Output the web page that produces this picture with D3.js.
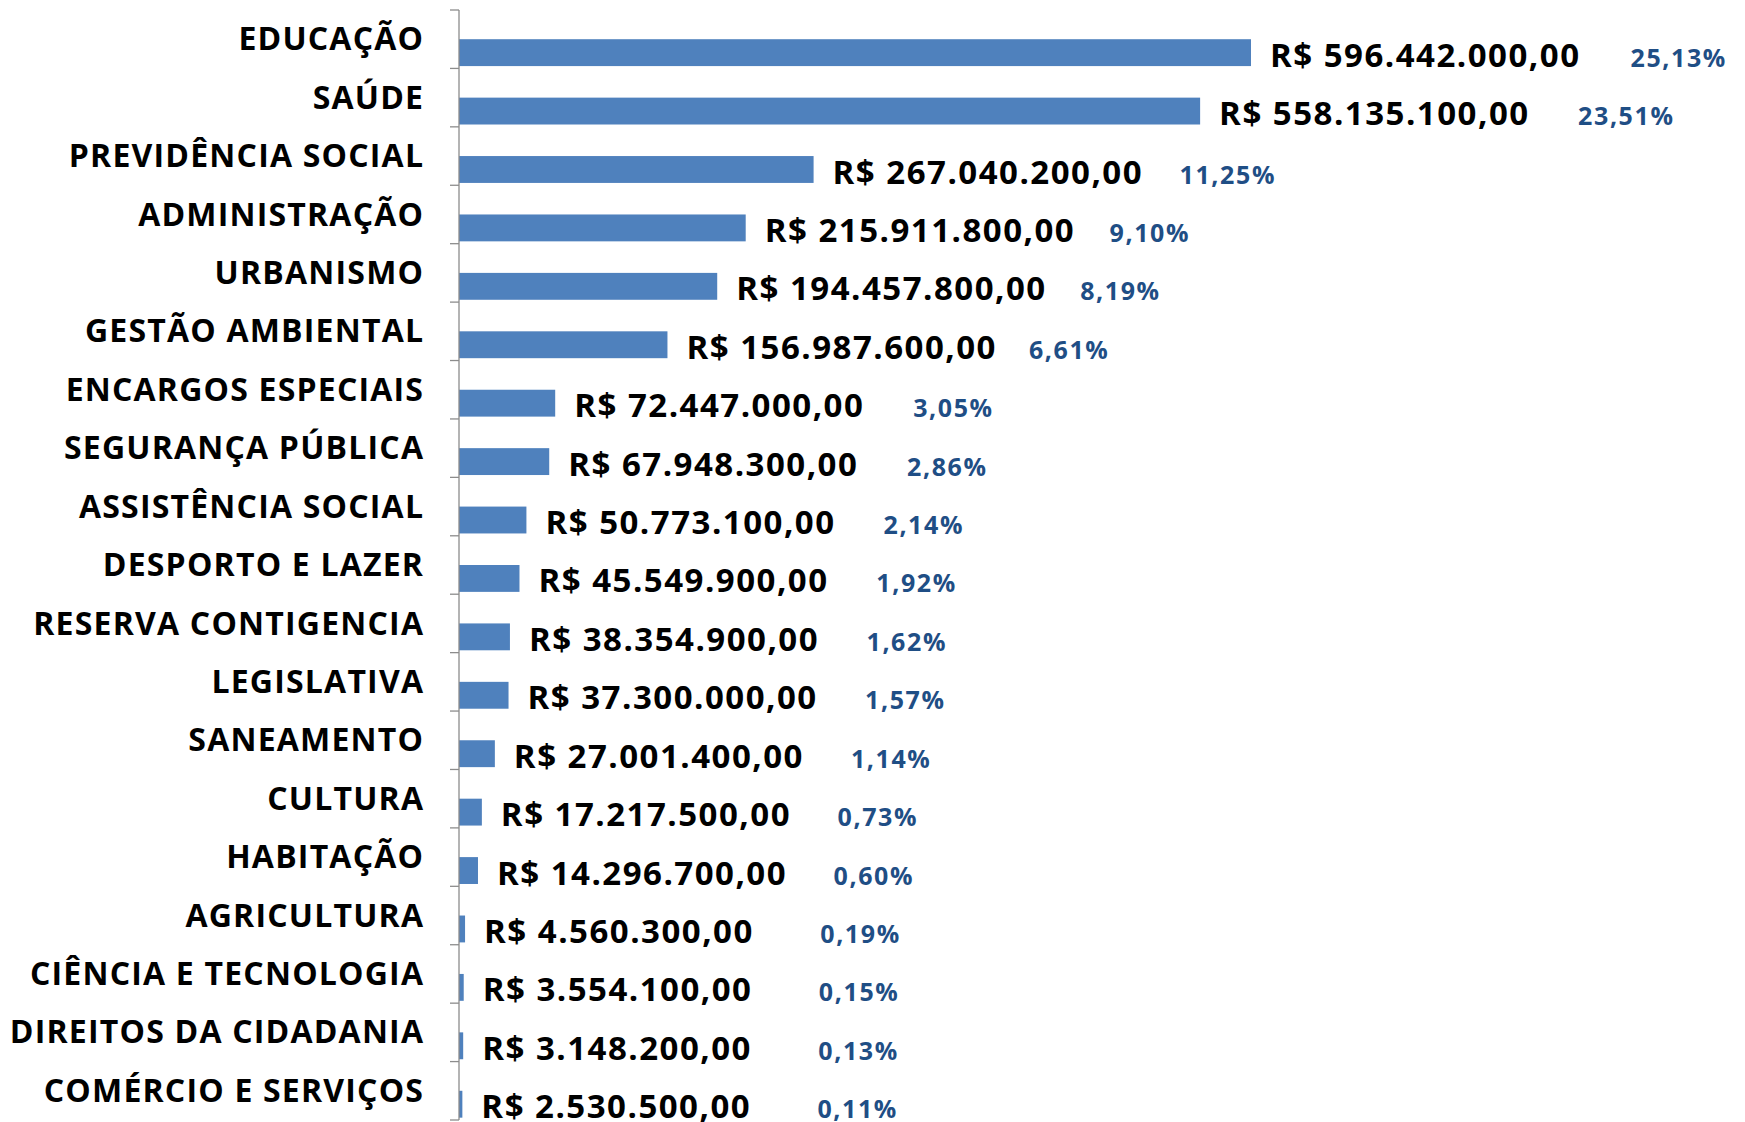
<!DOCTYPE html>
<html>
<head>
<meta charset="utf-8">
<script src="https://cdn.jsdelivr.net/npm/d3@7"></script>
<style>
  html, body { margin: 0; padding: 0; background: #fff; }
  svg { display: block; }
  text { font-family: "Open Sans", sans-serif; font-weight: 700; }
</style>
</head>
<body>
<svg id="chart" width="1745" height="1122"></svg>
<script>
const categories = [
  "EDUCAÇÃO", "SAÚDE", "PREVIDÊNCIA SOCIAL", "ADMINISTRAÇÃO", "URBANISMO",
  "GESTÃO AMBIENTAL", "ENCARGOS ESPECIAIS", "SEGURANÇA PÚBLICA", "ASSISTÊNCIA SOCIAL",
  "DESPORTO E LAZER", "RESERVA CONTIGENCIA", "LEGISLATIVA", "SANEAMENTO", "CULTURA",
  "HABITAÇÃO", "AGRICULTURA", "CIÊNCIA E TECNOLOGIA", "DIREITOS DA CIDADANIA",
  "COMÉRCIO E SERVIÇOS"
];
const values = [
  596442000.00, 558135100.00, 267040200.00, 215911800.00, 194457800.00,
  156987600.00, 72447000.00, 67948300.00, 50773100.00,
  45549900.00, 38354900.00, 37300000.00, 27001400.00, 17217500.00,
  14296700.00, 4560300.00, 3554100.00, 3148200.00,
  2530500.00
];
const percents = [
  "25,13%", "23,51%", "11,25%", "9,10%", "8,19%",
  "6,61%", "3,05%", "2,86%", "2,14%",
  "1,92%", "1,62%", "1,57%", "1,14%", "0,73%",
  "0,60%", "0,19%", "0,15%", "0,13%",
  "0,11%"
];

(function () {
const axisX = 459, y0 = 10, y1 = 1120;
const svg = d3.select("#chart");

const x = d3.scaleLinear().domain([0, 700000000]).range([axisX, axisX + 929.5]);
const y = d3.scaleBand().domain(categories).range([y0, y1]).paddingInner(0).paddingOuter(0);
const bw = y.bandwidth();

const br = d3.formatLocale({decimal: ",", thousands: ".", grouping: [3], currency: ["R$ ", ""]});
const fmt = br.format("$,.2f");

// bars
svg.append("g").selectAll("rect").data(values).join("rect")
  .attr("x", axisX)
  .attr("y", (d, i) => y(categories[i]) + bw * 0.5)
  .attr("width", d => Math.max(0, x(d) - axisX))
  .attr("height", bw * 0.46)
  .attr("fill", "#4F81BD");

// category axis
const gAxis = svg.append("g").attr("transform", `translate(${axisX},0)`);
gAxis.append("line").attr("x1", 0).attr("x2", 0).attr("y1", y0).attr("y2", y1)
  .attr("stroke", "#8c8c8c").attr("stroke-width", 1.3);
const bounds = d3.range(categories.length + 1).map(i => y0 + i * bw);
gAxis.selectAll("line.b").data(bounds).join("line").attr("class", "b")
  .attr("x1", -9).attr("x2", 0).attr("y1", d => d).attr("y2", d => d)
  .attr("stroke", "#8c8c8c").attr("stroke-width", 1.3);

// category labels
const catLS = 1.2;
svg.append("g").selectAll("text").data(categories).join("text")
  .attr("x", 423 + catLS)
  .attr("y", d => y(d) + bw * 0.69)
  .attr("text-anchor", "end")
  .attr("font-size", 32)
  .attr("letter-spacing", catLS)
  .attr("fill", "#000")
  .text(d => d);

// value labels
svg.append("g").selectAll("text").data(values).join("text")
  .attr("x", d => x(d) + 19)
  .attr("y", (d, i) => y(categories[i]) + bw * 0.97)
  .attr("font-size", 33)
  .attr("letter-spacing", 1.5)
  .attr("fill", "#000")
  .text(d => fmt(d));

// percent labels
svg.append("g").selectAll("text").data(values).join("text")
  .attr("x", d => x(d) + 355 + 0.031 * (x(d) - axisX))
  .attr("y", (d, i) => y(categories[i]) + bw * 0.97)
  .attr("font-size", 25)
  .attr("letter-spacing", 1.6)
  .attr("fill", "#1F4E85")
  .text((d, i) => percents[i]);
})();
</script>
</body>
</html>
